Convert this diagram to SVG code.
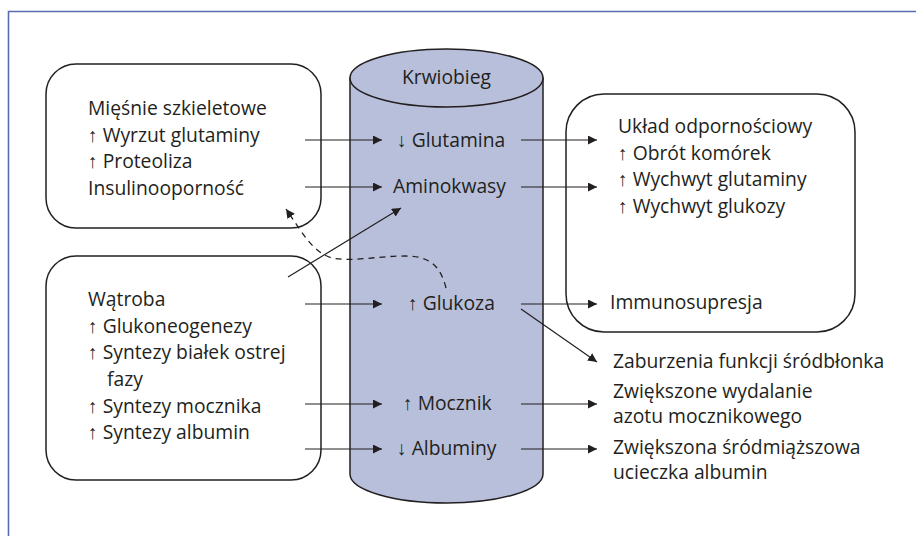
<svg xmlns="http://www.w3.org/2000/svg" width="916" height="536" viewBox="0 0 916 536">
<defs>
<style>
.t{font-family:"Open Sans","DejaVu Sans",sans-serif;font-size:19.3px;fill:#231f20}
.a{font-family:"Liberation Sans","DejaVu Sans",sans-serif}
.box{fill:#fff;stroke:#231f20;stroke-width:1.5}
.c{stroke:#231f20;stroke-width:1.2;fill:none}
.d{stroke:#231f20;stroke-width:1.3;fill:none;stroke-dasharray:6 5}
</style>
<marker id="ah" viewBox="0 0 10 10" refX="10" refY="5" markerWidth="9" markerHeight="9" markerUnits="userSpaceOnUse" orient="auto">
<path d="M0,0 L10,5 L0,10 z" fill="#231f20"/>
</marker>
</defs>
<rect width="916" height="536" fill="#fff"/>
<path d="M8.5,536 V11.5 H916" fill="none" stroke="#5a6cb0" stroke-width="1.6"/>

<g id="krwiobieg">
<path d="M350,78 V474 A96.5,29 0 0 0 543,474 V78 Z" fill="#b8bfda" stroke="#231f20" stroke-width="1.5"/>
<ellipse cx="446.5" cy="78" rx="96.5" ry="29" fill="#b8bfda" stroke="#231f20" stroke-width="1.5"/>
<text class="t" x="446.5" y="84" text-anchor="middle">Krwiobieg</text>
</g>

<g id="miesnie">
<rect class="box" x="46" y="64" width="275" height="164" rx="30"/>
<text class="t" x="88" y="115">Mięśnie szkieletowe</text>
<text class="t" x="88" y="142"><tspan class="a">↑</tspan> Wyrzut glutaminy</text>
<text class="t" x="88" y="168"><tspan class="a">↑</tspan> Proteoliza</text>
<text class="t" x="88" y="195">Insulinooporność</text>
</g>

<g id="watroba">
<rect class="box" x="46" y="256" width="275" height="224" rx="30"/>
<text class="t" x="88" y="306">Wątroba</text>
<text class="t" x="88" y="333"><tspan class="a">↑</tspan> Glukoneogenezy</text>
<text class="t" x="88" y="359"><tspan class="a">↑</tspan> Syntezy białek ostrej</text>
<text class="t" x="107" y="386">fazy</text>
<text class="t" x="88" y="413"><tspan class="a">↑</tspan> Syntezy mocznika</text>
<text class="t" x="88" y="439"><tspan class="a">↑</tspan> Syntezy albumin</text>
</g>

<g id="uklad">
<rect class="box" x="566" y="94" width="289" height="238" rx="38"/>
<text class="t" x="618" y="133">Układ odpornościowy</text>
<text class="t" x="618" y="160"><tspan class="a">↑</tspan>  Obrót komórek</text>
<text class="t" x="618" y="186"><tspan class="a">↑</tspan> Wychwyt glutaminy</text>
<text class="t" x="618" y="213"><tspan class="a">↑</tspan> Wychwyt glukozy</text>
</g>

<g id="glutamina"><text class="t" x="397" y="147"><tspan class="a">↓</tspan> Glutamina</text></g>
<g id="aminokwasy"><text class="t" x="393" y="193">Aminokwasy</text></g>
<g id="glukoza"><text class="t" x="408" y="310"><tspan class="a">↑</tspan> Glukoza</text></g>
<g id="mocznik"><text class="t" x="403" y="410"><tspan class="a">↑</tspan> Mocznik</text></g>
<g id="albuminy"><text class="t" x="397" y="455"><tspan class="a">↓</tspan> Albuminy</text></g>

<g id="immunosupresja"><text class="t" x="610" y="309">Immunosupresja</text></g>
<g id="zaburzenia"><text class="t" x="613" y="368">Zaburzenia funkcji śródbłonka</text></g>
<g id="wydalanie">
<text class="t" x="613" y="398">Zwiększone wydalanie</text>
<text class="t" x="613" y="423">azotu mocznikowego</text>
</g>
<g id="ucieczka">
<text class="t" x="613" y="454">Zwiększona śródmiąższowa</text>
<text class="t" x="613" y="479">ucieczka albumin</text>
</g>

<g id="connectors">
<line class="c" x1="305" y1="140" x2="382" y2="140" marker-end="url(#ah)"/>
<line class="c" x1="305" y1="187" x2="382" y2="187" marker-end="url(#ah)"/>
<line class="c" x1="305" y1="304" x2="382" y2="304" marker-end="url(#ah)"/>
<line class="c" x1="305" y1="404" x2="382" y2="404" marker-end="url(#ah)"/>
<line class="c" x1="305" y1="449" x2="382" y2="449" marker-end="url(#ah)"/>
<line class="c" x1="288" y1="277" x2="401" y2="208" marker-end="url(#ah)"/>
<line class="c" x1="521" y1="140" x2="597" y2="140" marker-end="url(#ah)"/>
<line class="c" x1="521" y1="187" x2="597" y2="187" marker-end="url(#ah)"/>
<line class="c" x1="521" y1="304" x2="597" y2="304" marker-end="url(#ah)"/>
<line class="c" x1="521" y1="309" x2="597" y2="362" marker-end="url(#ah)"/>
<line class="c" x1="521" y1="404" x2="597" y2="404" marker-end="url(#ah)"/>
<line class="c" x1="521" y1="449" x2="597" y2="449" marker-end="url(#ah)"/>
<path class="d" d="M446,288 C440,264 428,256 405,256 C378,256 352,262 332,258 C312,252 302,232 286,209" marker-end="url(#ah)"/>
</g>
</svg>
